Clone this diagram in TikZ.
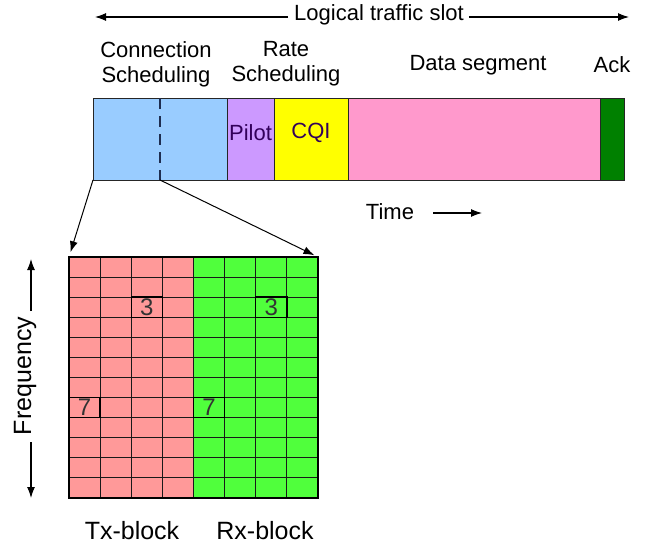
\documentclass[tikz,border=0pt]{standalone}
\usepackage{fontspec}
\setmainfont{Liberation Sans}
\usetikzlibrary{positioning,calc,arrows.meta}

\definecolor{connblue}{RGB}{153,204,255}
\definecolor{pilotpurple}{RGB}{204,153,255}
\definecolor{cqiyellow}{RGB}{255,255,0}
\definecolor{datapink}{RGB}{255,153,204}
\definecolor{ackgreen}{RGB}{0,128,0}
\definecolor{txred}{RGB}{255,153,153}
\definecolor{rxgreen}{RGB}{80,255,60}
\definecolor{dashnavy}{RGB}{30,45,80}
\definecolor{pilottext}{RGB}{50,0,90}

\tikzset{
  seg/.style={draw=black!85, line width=0.8pt, inner sep=0pt, outer sep=0pt,
    minimum height=82pt, anchor=north west},
  lbl/.style={font=\fontsize{22}{25}\selectfont, align=center, inner sep=0pt},
  biglbl/.style={font=\fontsize{25}{28}\selectfont, inner sep=0pt},
  digit/.style={font=\fontsize{24}{26}\selectfont, inner sep=0pt, text=black!80},
  block/.style={inner sep=0pt, outer sep=0pt, minimum width=124.5pt,
    minimum height=241pt, anchor=north west},
  cellline/.style={line width=1.1pt, black!90},
  numcell/.style={draw=black, line width=1.4pt, inner sep=0pt,
    minimum width=31.125pt, minimum height=20.083pt},
  tip/.style={-{Latex[length=11pt,width=8pt]}}
}

\begin{document}
\begin{tikzpicture}[x=1pt,y=-1pt]
	\useasboundingbox (0,0) rectangle (654,549);
	% logical traffic slot
	\node[lbl] (slot) at (379,15) {Logical traffic slot};
	\coordinate (slotL) at (95,17);
	\coordinate (slotR) at (629,17);
	\draw[tip,line width=1.1pt] ([xshift=-6pt,yshift=-2pt]slot.west) -- (slotL);
	\draw[tip,line width=1.1pt] ([xshift=5pt,yshift=-2pt]slot.east) -- (slotR);
	% headings
	\node[lbl] (connlbl) at (156,64) {Connection\\Scheduling};
	\node[lbl] (ratelbl) at (286,64) {Rate\\Scheduling};
	\node[lbl] (datalbl) at (478,65) {Data segment};
	\node[lbl] (acklbl) at (612,65) {Ack};
	% slot segments
	\node[seg, fill=connblue, minimum width=134pt] (conn) at (93,98) {};
	\node[seg, fill=pilotpurple, minimum width=47pt, right=0pt of conn] (pilot) {};
	\node[seg, fill=cqiyellow, minimum width=74pt, right=0pt of pilot] (cqi) {};
	\node[seg, fill=datapink, minimum width=252pt, right=0pt of cqi] (data) {};
	\node[seg, fill=ackgreen, minimum width=24pt, right=0pt of data] (ack) {};
	\draw[dashnavy, line width=2pt, dash pattern=on 11pt off 7pt] (conn.north) -- (conn.south);
	\node[lbl, pilottext] at ($(pilot)+(0,-6)$) {Pilot};
	\node[lbl, pilottext] at ($(cqi)+(0,-6)$) {CQI};
	% time axis
	\node[lbl] (time) at (390,212) {Time};
	\coordinate (timeA) at (433,213);
	\coordinate (timeB) at (482,213);
	\draw[tip,line width=1.1pt] (timeA) -- (timeB);
	% tx / rx blocks
	\node[block, fill=txred] (tx) at (69,257) {};
	\node[block, fill=rxgreen, right=0pt of tx] (rx) {};
	\foreach \i in {1,...,7}
		\draw[cellline] ($(tx.north west)+(\i*31.125,0)$) -- ($(tx.south west)+(\i*31.125,0)$);
	\foreach \j in {1,...,11}
		\draw[cellline] ($(tx.north west)+(0,\j*20.083)$) -- ($(rx.north east)+(0,\j*20.083)$);
	\draw[line width=2.6pt] (tx.north west) rectangle (rx.south east);
	\node[numcell] (tx3) at ($(tx.north west)+(2.5*31.125,2.5*20.083)$) {};
	\node[numcell] (rx3) at ($(tx.north west)+(6.5*31.125,2.5*20.083)$) {};
	\node[numcell] (tx7) at ($(tx.north west)+(0.5*31.125,7.5*20.083)$) {};
	\node[numcell] (rx7) at ($(tx.north west)+(4.5*31.125,7.5*20.083)$) {};
	\node[digit] at (tx3) {3};
	\node[digit] at (rx3) {3};
	\node[digit] at (tx7) {7};
	\node[digit] at (rx7) {7};
	% zoom arrows
	\draw[tip,line width=1pt,shorten >=5pt] (conn.south west) -- (tx.north west);
	\draw[tip,line width=1pt,shorten >=4pt] (conn.south) -- (rx.north east);
	% frequency axis
	\node[biglbl, rotate=90] (freq) at (25,376) {Frequency};
	\coordinate (freqT) at (31,259);
	\coordinate (freqA) at (31,311);
	\coordinate (freqB) at (31,498);
	\coordinate (freqC) at (31,442);
	\draw[tip,line width=1.1pt] (freqA) -- (freqT);
	\draw[tip,line width=1.1pt] (freqC) -- (freqB);
	% block labels
	\node[biglbl] (txlbl) at (132,531) {Tx-block};
	\node[biglbl] (rxlbl) at (265,531) {Rx-block};
\end{tikzpicture}
\end{document}
